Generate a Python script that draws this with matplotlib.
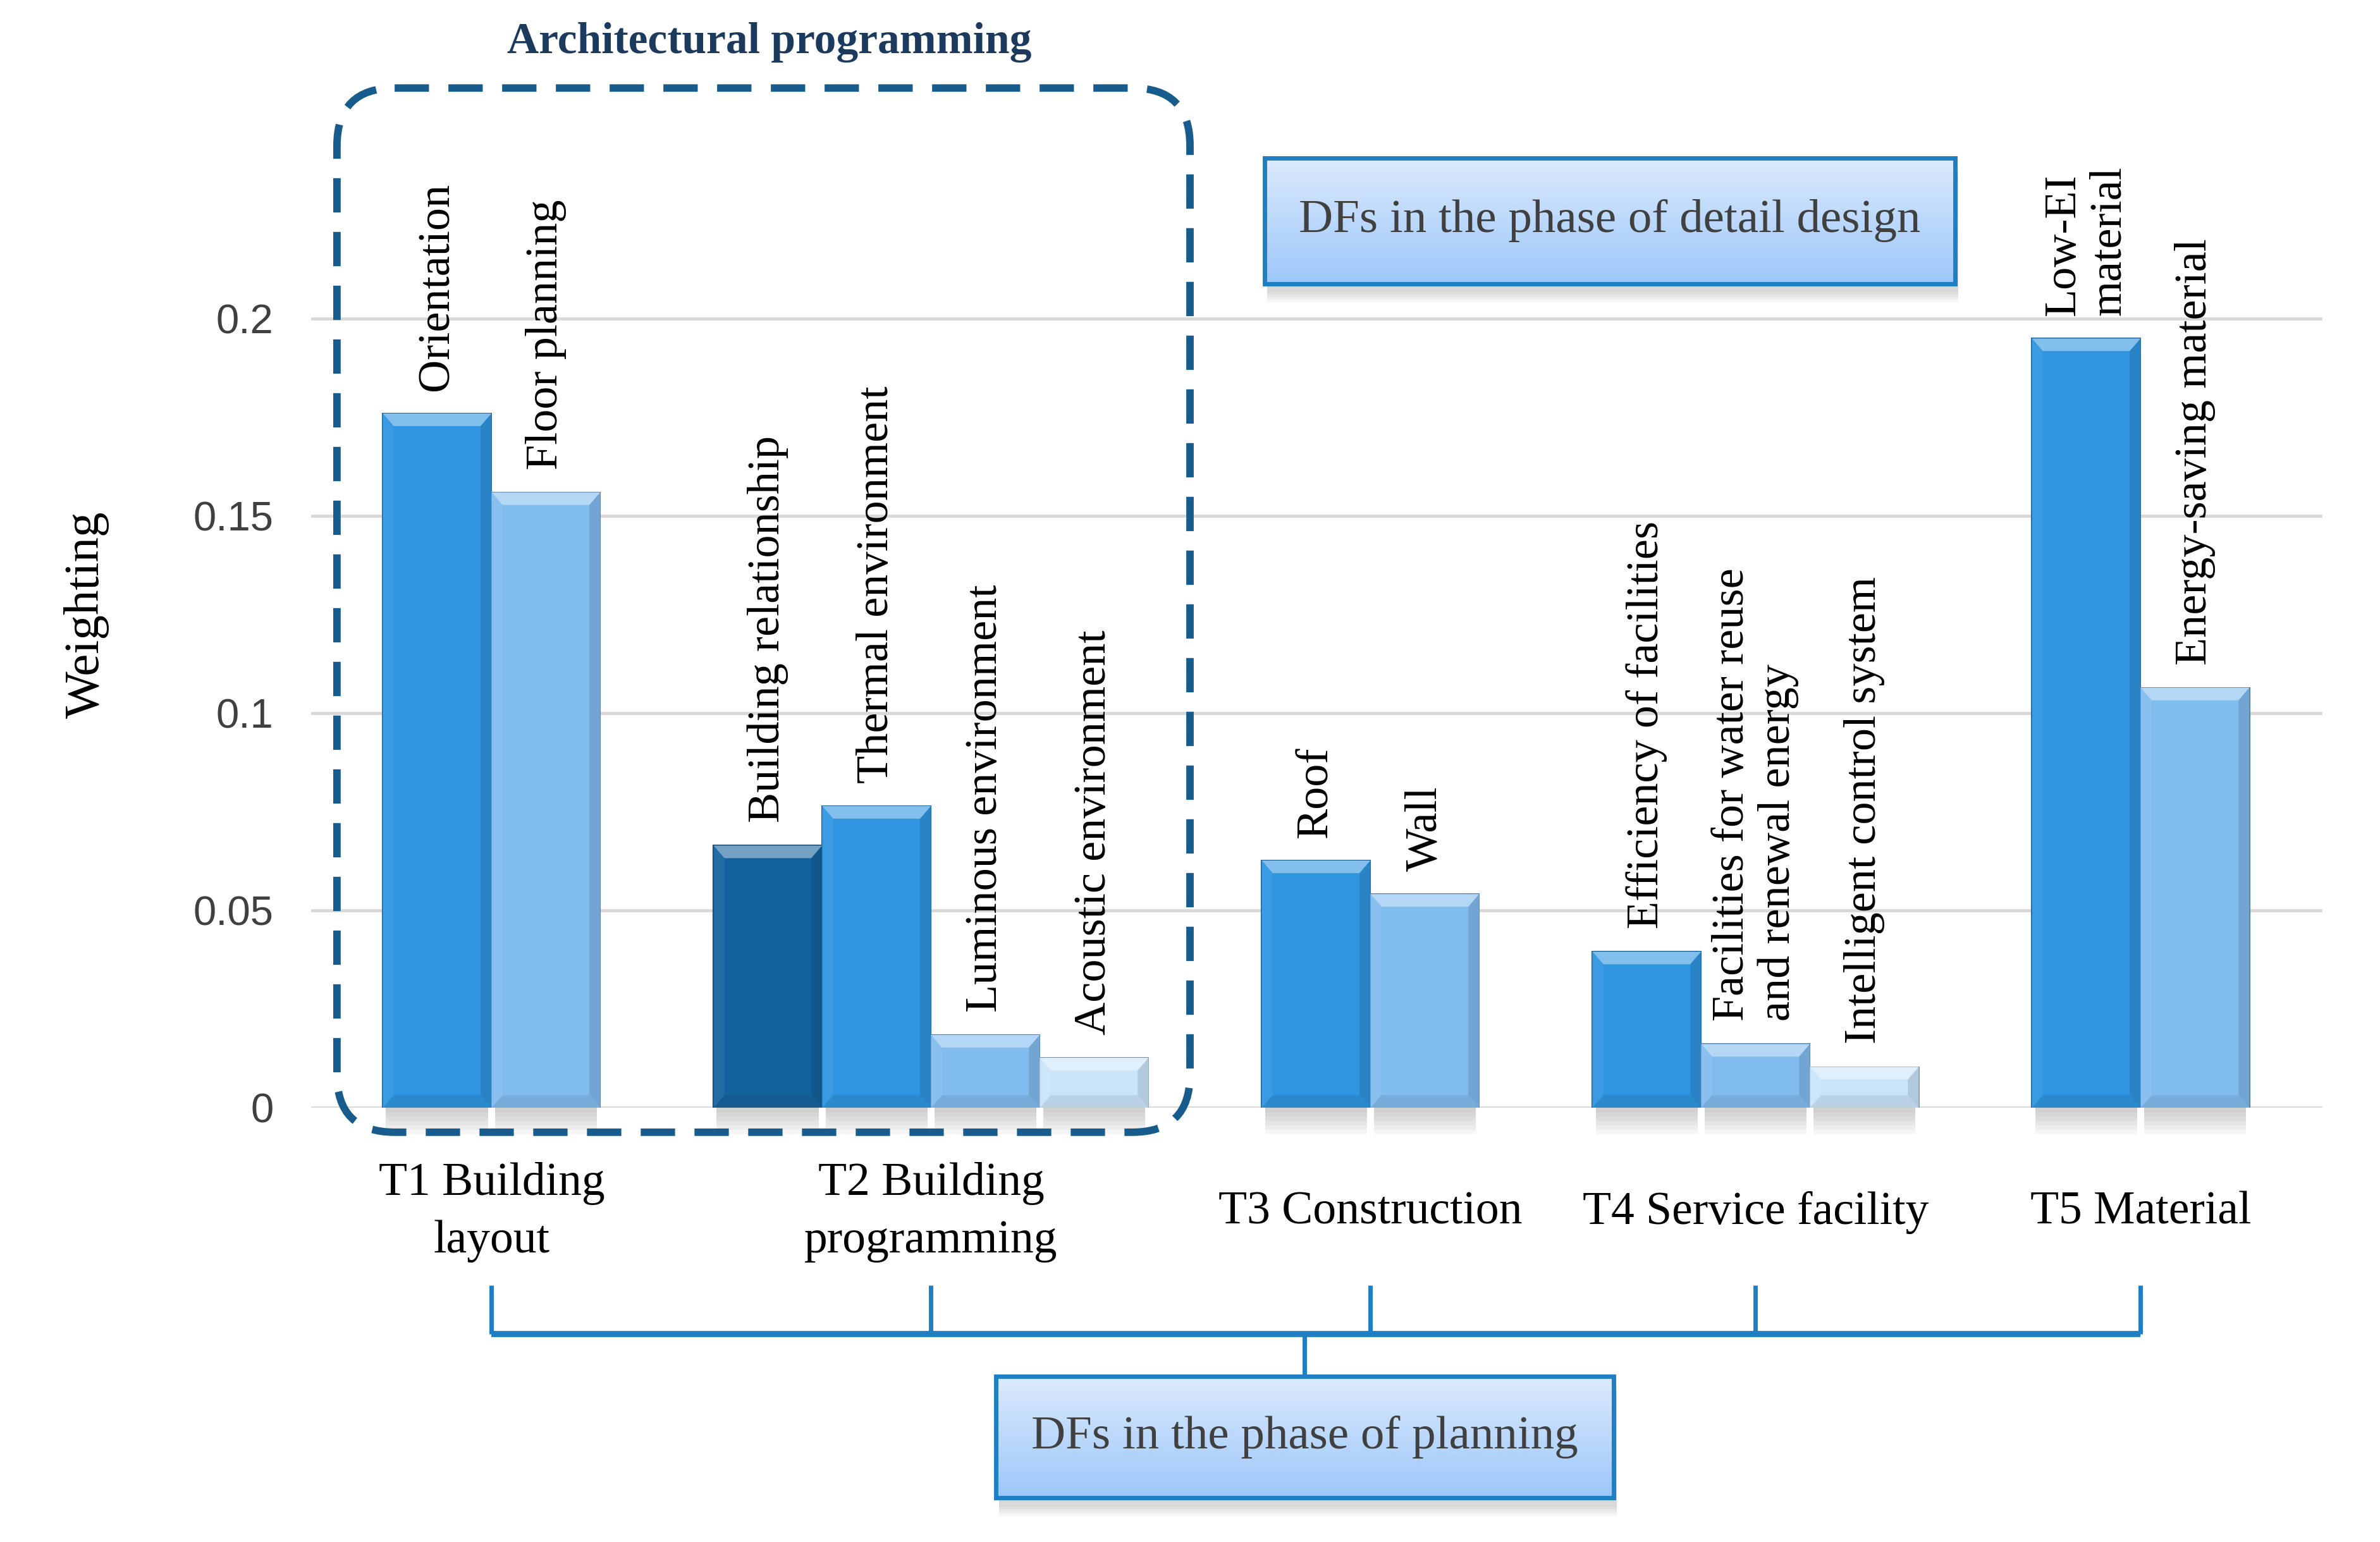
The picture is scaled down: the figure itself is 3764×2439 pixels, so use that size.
import numpy as np
import matplotlib
matplotlib.use('Agg')
import matplotlib.pyplot as plt
from matplotlib.patches import Rectangle, FancyBboxPatch
from matplotlib.colors import to_rgb

# data
groups = ['T1 Building\nlayout', 'T2 Building\nprogramming', 'T3 Construction',
          'T4 Service facility', 'T5 Material']
factors = [
    ['Orientation', 'Floor planning'],
    ['Building relationship', 'Thermal environment', 'Luminous environment', 'Acoustic environment'],
    ['Roof', 'Wall'],
    ['Efficiency of facilities', 'Facilities for water reuse\nand renewal energy',
     'Intelligent control system'],
    ['Low-EI\nmaterial', 'Energy-saving material'],
]
weights = [
    [0.176, 0.156],
    [0.0665, 0.0765, 0.0185, 0.0127],
    [0.0627, 0.0542],
    [0.0396, 0.0162, 0.0104],
    [0.195, 0.1065],
]
shades = [['mid', 'light'], ['dark', 'mid', 'light', 'pale'], ['mid', 'light'],
          ['mid', 'light', 'pale'], ['mid', 'light']]
yticks = [0, 0.05, 0.1, 0.15, 0.2]
ytick_labels = ['0', '0.05', '0.1', '0.15', '0.2']

palette = {'dark': '#14629d', 'mid': '#2f95e0', 'light': '#81bcee', 'pale': '#c9e4f9'}
serif = 'Liberation Serif'
sans = 'Liberation Sans'
box_blue = '#1f7fc4'


def mix(c, other, t):
    c = np.array(to_rgb(c))
    o = np.array(to_rgb(other))
    return tuple(c * (1 - t) + o * t)


fig = plt.figure(figsize=(37.64, 24.39), dpi=100)
ax = fig.add_axes([205 / 1568, 1 - 730 / 1016, 1325 / 1568, 670 / 1016])
ax.set_zorder(1)

# bar positions: one bar width gap between groups
gap = 1.04
xs = []
start = 0.0
for g in weights:
    xs.append([start + i for i in range(len(g))])
    start += len(g) - 1 + 1 + gap

bev_x = 0.1
bev_y = 0.0032
for gx, gw, gs, gf in zip(xs, weights, shades, factors):
    for x, h, s, lab in zip(gx, gw, gs, gf):
        c = palette[s]
        ax.bar(x, h, width=1.0, color=c, edgecolor=mix(c, 'black', 0.35),
               linewidth=1.5, zorder=3)
        l, r = x - 0.5, x + 0.5
        ax.fill([l, r, r - bev_x, l + bev_x], [h, h, h - bev_y, h - bev_y],
                color=mix(c, 'white', 0.4), lw=0, zorder=4)
        ax.fill([l, l + bev_x, l + bev_x, l], [h, h - bev_y, bev_y, 0],
                color=mix(c, 'white', 0.06), lw=0, zorder=4)
        ax.fill([r, r - bev_x, r - bev_x, r], [h, h - bev_y, bev_y, 0],
                color=mix(c, 'black', 0.12), lw=0, zorder=4)
        ax.fill([l, r, r - bev_x, l + bev_x], [0, 0, bev_y, bev_y],
                color=mix(c, 'black', 0.08), lw=0, zorder=4)
        # soft shadow under the bar
        for k in range(1, 7):
            ax.add_patch(Rectangle((l + 0.03, -0.0011 * k), 0.94, 0.0011 * k,
                                   color='#555555', alpha=0.05, lw=0,
                                   clip_on=False, zorder=2))
        ax.text(x, h + 0.0058, lab, rotation=90, ha='center', va='bottom',
                multialignment='left', fontsize=52, family=serif,
                linespacing=1.15, color='black', zorder=5)

ax.set_xlim(-1.158, 17.33)
ax.set_ylim(0, 0.2577)
ax.set_yticks(yticks, ytick_labels, fontsize=47, family=sans, color='#404040')
ax.yaxis.grid(True, color='#d9d9d9', linewidth=3.5)
ax.set_axisbelow(True)
ax.tick_params(axis='y', length=0, pad=43)
for sp in ax.spines.values():
    sp.set_visible(False)

centers = [np.mean(g) for g in xs]
ax.set_xticks(centers, groups)
ax.tick_params(axis='x', length=0, pad=119)
for t in ax.get_xticklabels():
    t.set_fontsize(53)
    t.set_family(serif)
    t.set_va('center')
    t.set_linespacing(1.45)

ax.set_ylabel('Weighting', fontsize=57, family=serif)
ax.yaxis.set_label_coords(-0.1004, 0.485)

# bracket joining the five categories
trans = ax.get_xaxis_transform()
ax.vlines(centers, -0.1746, -0.2224, transform=trans, colors=box_blue,
          linewidth=5, clip_on=False)
ax.hlines(-0.2224, centers[0], centers[-1], transform=trans, colors=box_blue,
          linewidth=7, clip_on=False)

# overlay for annotation boxes (reference pixel coordinates)
ov = fig.add_axes([0, 0, 1, 1])
ov.set_zorder(2)
ov.axis('off')
ov.patch.set_alpha(0)

ov.add_patch(FancyBboxPatch((222, 58), 562, 688,
                            boxstyle='round,pad=0,rounding_size=38',
                            fill=False, edgecolor='#175c8c', linewidth=8.5,
                            linestyle=(0, (4.6, 2.6))))
ov.text(507, 28, 'Architectural programming', ha='center', va='center',
        fontsize=50, fontweight='bold', family=serif, color='#1c3a5e')

grad = np.linspace(0, 1, 100)[:, None]
top_c = np.array(to_rgb('#dceafc'))
bot_c = np.array(to_rgb('#9cc7fa'))
grad_img = top_c[None, None, :] * (1 - grad[:, :, None]) + bot_c[None, None, :] * grad[:, :, None]


def gradient_box(x0, y0, x1, y1, text):
    for k in range(1, 6):
        ov.add_patch(Rectangle((x0 + 2, y0 + 4 + k * 1.6), x1 - x0, y1 - y0,
                               color='#888888', alpha=0.07, lw=0))
    ov.imshow(grad_img, extent=(x0, x1, y1, y0), origin='upper', aspect='auto',
              zorder=3)
    ov.add_patch(Rectangle((x0, y0), x1 - x0, y1 - y0, fill=False,
                           edgecolor=box_blue, linewidth=5, zorder=4))
    ov.text((x0 + x1) / 2, (y0 + y1) / 2, text, ha='center', va='center',
            fontsize=54, family=serif, color='#404040', zorder=5)


gradient_box(833, 104, 1288, 187, 'DFs in the phase of detail design')
gradient_box(656, 907, 1063, 987, 'DFs in the phase of planning')
ov.plot([859.5, 859.5], [879, 907], color=box_blue, linewidth=5, zorder=2)
ov.set_xlim(0, 1568)
ov.set_ylim(1016, 0)

fig.savefig('out.png', dpi=100)
